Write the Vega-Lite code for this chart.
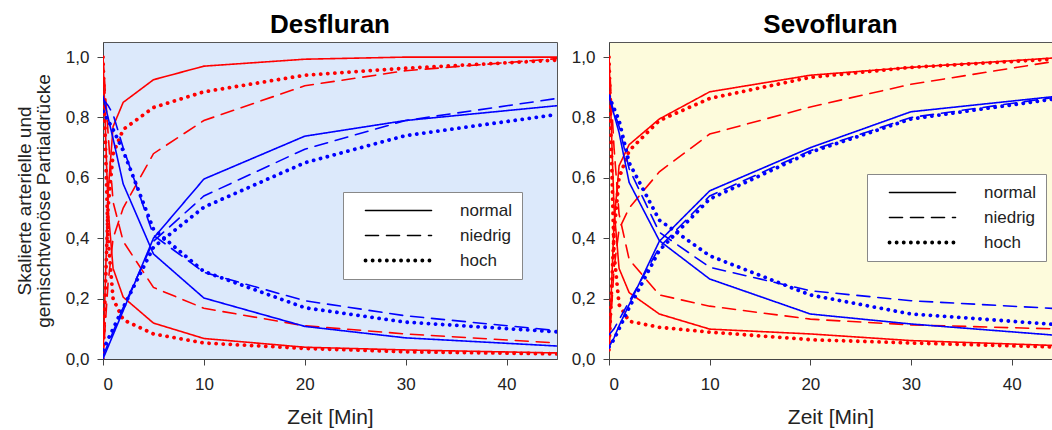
{
  "$schema": "https://vega.github.io/schema/vega-lite/v6.json",
  "padding": {"left": 14, "top": 11, "right": 0, "bottom": 0},
  "spacing": 12,
  "config": {
    "font": "Liberation Sans",
    "axis": {"labelFontSize": 17, "labelColor": "#222", "tickColor": "#444", "domainColor": "#444", "tickSize": 6, "grid": false, "titleFontSize": 21, "titleFontWeight": "normal", "titleColor": "#222"},
    "axisX": {"labelPadding": 11, "titlePadding": 14},
    "axisY": {"labelPadding": 8},
    "legend": {"title": null, "symbolType": "M-3.667,0H3.667", "symbolSize": 324, "symbolOffset": 37, "labelOffset": 53, "padding": 10, "rowPadding": 7, "fillColor": "white", "strokeColor": "#888", "labelFontSize": 17, "labelColor": "#222", "symbolStrokeColor": "black", "symbolFillColor": "transparent"}
  },
  "datasets": {
    "kurven": [
      {"Narkosegas": "Desfluran", "Messort": "arteriell", "Phase": "Aufnahme", "t": 0, "normal": 0, "niedrig": 0, "hoch": 0},
      {"Narkosegas": "Desfluran", "Messort": "arteriell", "Phase": "Aufnahme", "t": 0.5, "normal": 0.55, "niedrig": 0.25, "hoch": 0.5},
      {"Narkosegas": "Desfluran", "Messort": "arteriell", "Phase": "Aufnahme", "t": 1, "normal": 0.77, "niedrig": 0.4, "hoch": 0.68},
      {"Narkosegas": "Desfluran", "Messort": "arteriell", "Phase": "Aufnahme", "t": 2, "normal": 0.85, "niedrig": 0.5, "hoch": 0.76},
      {"Narkosegas": "Desfluran", "Messort": "arteriell", "Phase": "Aufnahme", "t": 5, "normal": 0.925, "niedrig": 0.68, "hoch": 0.833},
      {"Narkosegas": "Desfluran", "Messort": "arteriell", "Phase": "Aufnahme", "t": 10, "normal": 0.97, "niedrig": 0.79, "hoch": 0.885},
      {"Narkosegas": "Desfluran", "Messort": "arteriell", "Phase": "Aufnahme", "t": 20, "normal": 0.993, "niedrig": 0.905, "hoch": 0.94},
      {"Narkosegas": "Desfluran", "Messort": "arteriell", "Phase": "Aufnahme", "t": 30, "normal": 1.0, "niedrig": 0.955, "hoch": 0.963},
      {"Narkosegas": "Desfluran", "Messort": "arteriell", "Phase": "Aufnahme", "t": 45, "normal": 1.0, "niedrig": 0.995, "hoch": 0.99},

      {"Narkosegas": "Desfluran", "Messort": "arteriell", "Phase": "Elimination", "t": 0, "normal": 1, "niedrig": 1, "hoch": 1},
      {"Narkosegas": "Desfluran", "Messort": "arteriell", "Phase": "Elimination", "t": 0.5, "normal": 0.5, "niedrig": 0.75, "hoch": 0.4},
      {"Narkosegas": "Desfluran", "Messort": "arteriell", "Phase": "Elimination", "t": 1, "normal": 0.3, "niedrig": 0.52, "hoch": 0.2},
      {"Narkosegas": "Desfluran", "Messort": "arteriell", "Phase": "Elimination", "t": 2, "normal": 0.205, "niedrig": 0.39, "hoch": 0.13},
      {"Narkosegas": "Desfluran", "Messort": "arteriell", "Phase": "Elimination", "t": 5, "normal": 0.119, "niedrig": 0.237, "hoch": 0.083},
      {"Narkosegas": "Desfluran", "Messort": "arteriell", "Phase": "Elimination", "t": 10, "normal": 0.068, "niedrig": 0.168, "hoch": 0.053},
      {"Narkosegas": "Desfluran", "Messort": "arteriell", "Phase": "Elimination", "t": 20, "normal": 0.039, "niedrig": 0.11, "hoch": 0.035},
      {"Narkosegas": "Desfluran", "Messort": "arteriell", "Phase": "Elimination", "t": 30, "normal": 0.03, "niedrig": 0.083, "hoch": 0.024},
      {"Narkosegas": "Desfluran", "Messort": "arteriell", "Phase": "Elimination", "t": 45, "normal": 0.02, "niedrig": 0.053, "hoch": 0.017},

      {"Narkosegas": "Desfluran", "Messort": "gemischtvenös", "Phase": "Aufnahme", "t": 0, "normal": 0, "niedrig": 0.01, "hoch": 0.03},
      {"Narkosegas": "Desfluran", "Messort": "gemischtvenös", "Phase": "Aufnahme", "t": 0.5, "normal": 0.04, "niedrig": 0.05, "hoch": 0.065},
      {"Narkosegas": "Desfluran", "Messort": "gemischtvenös", "Phase": "Aufnahme", "t": 1, "normal": 0.08, "niedrig": 0.09, "hoch": 0.1},
      {"Narkosegas": "Desfluran", "Messort": "gemischtvenös", "Phase": "Aufnahme", "t": 2, "normal": 0.16, "niedrig": 0.17, "hoch": 0.17},
      {"Narkosegas": "Desfluran", "Messort": "gemischtvenös", "Phase": "Aufnahme", "t": 5, "normal": 0.4, "niedrig": 0.39, "hoch": 0.37},
      {"Narkosegas": "Desfluran", "Messort": "gemischtvenös", "Phase": "Aufnahme", "t": 10, "normal": 0.596, "niedrig": 0.54, "hoch": 0.503},
      {"Narkosegas": "Desfluran", "Messort": "gemischtvenös", "Phase": "Aufnahme", "t": 20, "normal": 0.738, "niedrig": 0.695, "hoch": 0.65},
      {"Narkosegas": "Desfluran", "Messort": "gemischtvenös", "Phase": "Aufnahme", "t": 30, "normal": 0.79, "niedrig": 0.79, "hoch": 0.74},
      {"Narkosegas": "Desfluran", "Messort": "gemischtvenös", "Phase": "Aufnahme", "t": 45, "normal": 0.839, "niedrig": 0.863, "hoch": 0.81},

      {"Narkosegas": "Desfluran", "Messort": "gemischtvenös", "Phase": "Elimination", "t": 0, "normal": 0.87, "niedrig": 0.86, "hoch": 0.82},
      {"Narkosegas": "Desfluran", "Messort": "gemischtvenös", "Phase": "Elimination", "t": 0.5, "normal": 0.8, "niedrig": 0.84, "hoch": 0.79},
      {"Narkosegas": "Desfluran", "Messort": "gemischtvenös", "Phase": "Elimination", "t": 1, "normal": 0.73, "niedrig": 0.81, "hoch": 0.76},
      {"Narkosegas": "Desfluran", "Messort": "gemischtvenös", "Phase": "Elimination", "t": 2, "normal": 0.58, "niedrig": 0.7, "hoch": 0.69},
      {"Narkosegas": "Desfluran", "Messort": "gemischtvenös", "Phase": "Elimination", "t": 5, "normal": 0.348, "niedrig": 0.41, "hoch": 0.43},
      {"Narkosegas": "Desfluran", "Messort": "gemischtvenös", "Phase": "Elimination", "t": 10, "normal": 0.202, "niedrig": 0.287, "hoch": 0.29},
      {"Narkosegas": "Desfluran", "Messort": "gemischtvenös", "Phase": "Elimination", "t": 20, "normal": 0.108, "niedrig": 0.193, "hoch": 0.17},
      {"Narkosegas": "Desfluran", "Messort": "gemischtvenös", "Phase": "Elimination", "t": 30, "normal": 0.07, "niedrig": 0.143, "hoch": 0.122},
      {"Narkosegas": "Desfluran", "Messort": "gemischtvenös", "Phase": "Elimination", "t": 45, "normal": 0.043, "niedrig": 0.094, "hoch": 0.09},

      {"Narkosegas": "Sevofluran", "Messort": "arteriell", "Phase": "Aufnahme", "t": 0, "normal": 0.03, "niedrig": 0.03, "hoch": 0.03},
      {"Narkosegas": "Sevofluran", "Messort": "arteriell", "Phase": "Aufnahme", "t": 0.5, "normal": 0.45, "niedrig": 0.3, "hoch": 0.42},
      {"Narkosegas": "Sevofluran", "Messort": "arteriell", "Phase": "Aufnahme", "t": 1, "normal": 0.64, "niedrig": 0.43, "hoch": 0.6},
      {"Narkosegas": "Sevofluran", "Messort": "arteriell", "Phase": "Aufnahme", "t": 2, "normal": 0.71, "niedrig": 0.5, "hoch": 0.69},
      {"Narkosegas": "Sevofluran", "Messort": "arteriell", "Phase": "Aufnahme", "t": 5, "normal": 0.795, "niedrig": 0.62, "hoch": 0.79},
      {"Narkosegas": "Sevofluran", "Messort": "arteriell", "Phase": "Aufnahme", "t": 10, "normal": 0.885, "niedrig": 0.745, "hoch": 0.863},
      {"Narkosegas": "Sevofluran", "Messort": "arteriell", "Phase": "Aufnahme", "t": 20, "normal": 0.94, "niedrig": 0.835, "hoch": 0.933},
      {"Narkosegas": "Sevofluran", "Messort": "arteriell", "Phase": "Aufnahme", "t": 30, "normal": 0.966, "niedrig": 0.91, "hoch": 0.966},
      {"Narkosegas": "Sevofluran", "Messort": "arteriell", "Phase": "Aufnahme", "t": 45, "normal": 0.999, "niedrig": 0.99, "hoch": 0.995},

      {"Narkosegas": "Sevofluran", "Messort": "arteriell", "Phase": "Elimination", "t": 0, "normal": 1, "niedrig": 1, "hoch": 1},
      {"Narkosegas": "Sevofluran", "Messort": "arteriell", "Phase": "Elimination", "t": 0.5, "normal": 0.5, "niedrig": 0.7, "hoch": 0.35},
      {"Narkosegas": "Sevofluran", "Messort": "arteriell", "Phase": "Elimination", "t": 1, "normal": 0.3, "niedrig": 0.48, "hoch": 0.18},
      {"Narkosegas": "Sevofluran", "Messort": "arteriell", "Phase": "Elimination", "t": 2, "normal": 0.22, "niedrig": 0.33, "hoch": 0.125},
      {"Narkosegas": "Sevofluran", "Messort": "arteriell", "Phase": "Elimination", "t": 5, "normal": 0.149, "niedrig": 0.212, "hoch": 0.105},
      {"Narkosegas": "Sevofluran", "Messort": "arteriell", "Phase": "Elimination", "t": 10, "normal": 0.099, "niedrig": 0.175, "hoch": 0.089},
      {"Narkosegas": "Sevofluran", "Messort": "arteriell", "Phase": "Elimination", "t": 20, "normal": 0.083, "niedrig": 0.132, "hoch": 0.064},
      {"Narkosegas": "Sevofluran", "Messort": "arteriell", "Phase": "Elimination", "t": 30, "normal": 0.061, "niedrig": 0.113, "hoch": 0.053},
      {"Narkosegas": "Sevofluran", "Messort": "arteriell", "Phase": "Elimination", "t": 45, "normal": 0.044, "niedrig": 0.099, "hoch": 0.039},

      {"Narkosegas": "Sevofluran", "Messort": "gemischtvenös", "Phase": "Aufnahme", "t": 0, "normal": 0.04, "niedrig": 0.08, "hoch": 0.04},
      {"Narkosegas": "Sevofluran", "Messort": "gemischtvenös", "Phase": "Aufnahme", "t": 0.5, "normal": 0.07, "niedrig": 0.1, "hoch": 0.065},
      {"Narkosegas": "Sevofluran", "Messort": "gemischtvenös", "Phase": "Aufnahme", "t": 1, "normal": 0.11, "niedrig": 0.13, "hoch": 0.1},
      {"Narkosegas": "Sevofluran", "Messort": "gemischtvenös", "Phase": "Aufnahme", "t": 2, "normal": 0.18, "niedrig": 0.19, "hoch": 0.17},
      {"Narkosegas": "Sevofluran", "Messort": "gemischtvenös", "Phase": "Aufnahme", "t": 5, "normal": 0.39, "niedrig": 0.37, "hoch": 0.36},
      {"Narkosegas": "Sevofluran", "Messort": "gemischtvenös", "Phase": "Aufnahme", "t": 10, "normal": 0.557, "niedrig": 0.54, "hoch": 0.53},
      {"Narkosegas": "Sevofluran", "Messort": "gemischtvenös", "Phase": "Aufnahme", "t": 20, "normal": 0.7, "niedrig": 0.69, "hoch": 0.685},
      {"Narkosegas": "Sevofluran", "Messort": "gemischtvenös", "Phase": "Aufnahme", "t": 30, "normal": 0.819, "niedrig": 0.8, "hoch": 0.795},
      {"Narkosegas": "Sevofluran", "Messort": "gemischtvenös", "Phase": "Aufnahme", "t": 45, "normal": 0.872, "niedrig": 0.87, "hoch": 0.865},

      {"Narkosegas": "Sevofluran", "Messort": "gemischtvenös", "Phase": "Elimination", "t": 0, "normal": 0.87, "niedrig": 0.87, "hoch": 0.87},
      {"Narkosegas": "Sevofluran", "Messort": "gemischtvenös", "Phase": "Elimination", "t": 0.5, "normal": 0.81, "niedrig": 0.82, "hoch": 0.83},
      {"Narkosegas": "Sevofluran", "Messort": "gemischtvenös", "Phase": "Elimination", "t": 1, "normal": 0.75, "niedrig": 0.77, "hoch": 0.79},
      {"Narkosegas": "Sevofluran", "Messort": "gemischtvenös", "Phase": "Elimination", "t": 2, "normal": 0.585, "niedrig": 0.63, "hoch": 0.65},
      {"Narkosegas": "Sevofluran", "Messort": "gemischtvenös", "Phase": "Elimination", "t": 5, "normal": 0.392, "niedrig": 0.42, "hoch": 0.46},
      {"Narkosegas": "Sevofluran", "Messort": "gemischtvenös", "Phase": "Elimination", "t": 10, "normal": 0.265, "niedrig": 0.304, "hoch": 0.342},
      {"Narkosegas": "Sevofluran", "Messort": "gemischtvenös", "Phase": "Elimination", "t": 20, "normal": 0.149, "niedrig": 0.226, "hoch": 0.212},
      {"Narkosegas": "Sevofluran", "Messort": "gemischtvenös", "Phase": "Elimination", "t": 30, "normal": 0.116, "niedrig": 0.193, "hoch": 0.149},
      {"Narkosegas": "Sevofluran", "Messort": "gemischtvenös", "Phase": "Elimination", "t": 45, "normal": 0.077, "niedrig": 0.166, "hoch": 0.113}
    ]
  },
  "resolve": {"legend": {"strokeDash": "independent"}},
  "hconcat": [
    {
      "width": 454,
      "height": 317,
      "view": {"fill": "#dce9fb", "stroke": "#555", "strokeWidth": 1},
      "title": {"text": "Desfluran", "fontSize": 26, "fontWeight": "bold", "frame": "group", "anchor": "middle", "offset": 4, "color": "#000"},
      "data": {"name": "kurven"},
      "transform": [
        {"filter": "datum.Narkosegas === 'Desfluran'"},
        {"fold": ["normal", "niedrig", "hoch"], "as": ["Typ", "Wert"]}
      ],
      "mark": {"type": "line", "strokeCap": "round", "clip": true},
      "encoding": {
        "x": {"field": "t", "type": "quantitative", "scale": {"domain": [0, 45], "nice": false}, "axis": {"values": [0, 10, 20, 30, 40], "title": "Zeit [Min]"}},
        "y": {"field": "Wert", "type": "quantitative", "scale": {"domain": [0, 1.05], "nice": false}, "axis": {"values": [0, 0.2, 0.4, 0.6, 0.8, 1], "labelExpr": "replace(format(datum.value, '.1f'), '.', ',')", "title": ["Skalierte arterielle und", "gemischtvenöse Partialdrücke"], "titleFontSize": 19, "titleLineHeight": 19, "titlePadding": 12}},
        "color": {"field": "Messort", "type": "nominal", "scale": {"domain": ["arteriell", "gemischtvenös"], "range": ["#ff0000", "#0000ff"]}, "legend": null},
        "strokeDash": {"field": "Typ", "type": "nominal", "scale": {"domain": ["normal", "niedrig", "hoch"], "range": [[1, 0], [13, 8], [0.1, 7]]},
          "legend": {"orient": "none", "legendX": 240, "legendY": 150, "encode": {"symbols": {"update": {"strokeCap": {"value": "round"}, "strokeWidth": {"signal": "datum.value === 'hoch' ? 3.8 : 1.6"}, "stroke": {"value": "black"}}}}}},
        "strokeWidth": {"condition": {"test": "datum.Typ === 'hoch'", "value": 3.8}, "value": 1.6},
        "detail": {"field": "Phase", "type": "nominal"}
      }
    },
    {
      "width": 443,
      "height": 317,
      "view": {"fill": "#fdfbdc", "stroke": "#555", "strokeWidth": 1},
      "title": {"text": "Sevofluran", "fontSize": 26, "fontWeight": "bold", "frame": "group", "anchor": "middle", "offset": 4, "color": "#000"},
      "data": {"name": "kurven"},
      "transform": [
        {"filter": "datum.Narkosegas === 'Sevofluran'"},
        {"fold": ["normal", "niedrig", "hoch"], "as": ["Typ", "Wert"]}
      ],
      "mark": {"type": "line", "strokeCap": "round", "clip": true},
      "encoding": {
        "x": {"field": "t", "type": "quantitative", "scale": {"domain": [0, 44], "nice": false}, "axis": {"values": [0, 10, 20, 30, 40], "title": "Zeit [Min]"}},
        "y": {"field": "Wert", "type": "quantitative", "scale": {"domain": [0, 1.05], "nice": false}, "axis": {"values": [0, 0.2, 0.4, 0.6, 0.8, 1], "labelExpr": "replace(format(datum.value, '.1f'), '.', ',')", "title": null}},
        "color": {"field": "Messort", "type": "nominal", "scale": {"domain": ["arteriell", "gemischtvenös"], "range": ["#ff0000", "#0000ff"]}, "legend": null},
        "strokeDash": {"field": "Typ", "type": "nominal", "scale": {"domain": ["normal", "niedrig", "hoch"], "range": [[1, 0], [13, 8], [0.1, 7]]},
          "legend": {"orient": "none", "legendX": 258, "legendY": 132, "encode": {"symbols": {"update": {"strokeCap": {"value": "round"}, "strokeWidth": {"signal": "datum.value === 'hoch' ? 3.8 : 1.6"}, "stroke": {"value": "black"}}}}}},
        "strokeWidth": {"condition": {"test": "datum.Typ === 'hoch'", "value": 3.8}, "value": 1.6},
        "detail": {"field": "Phase", "type": "nominal"}
      }
    }
  ]
}
